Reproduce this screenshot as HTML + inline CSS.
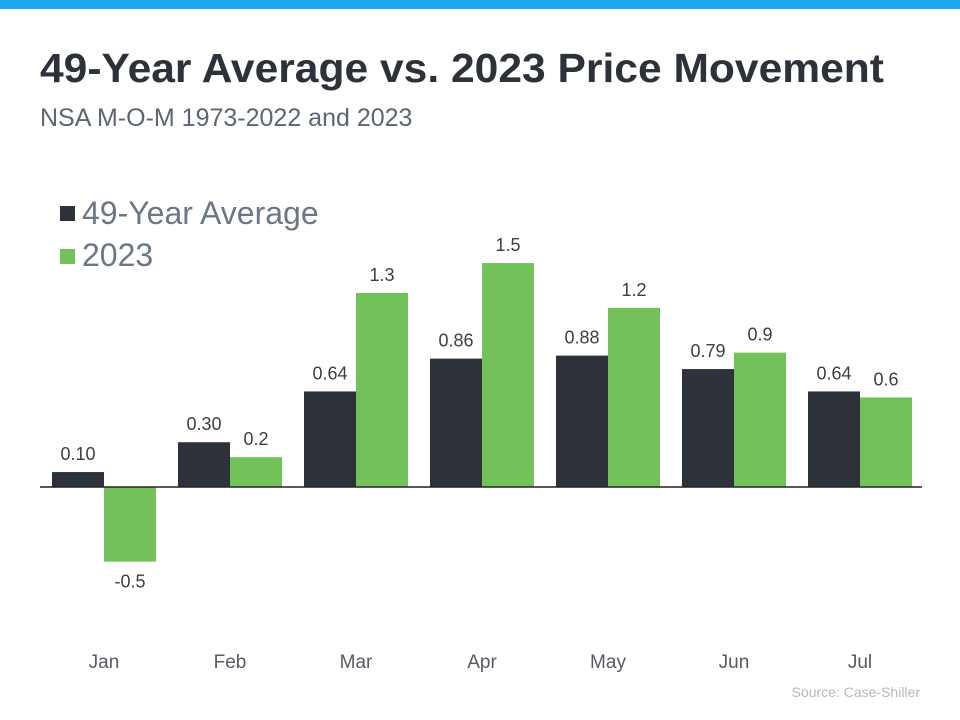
<!DOCTYPE html>
<html><head><meta charset="utf-8"><style>
body{margin:0;background:#fff;}
svg{display:block;font-family:"Liberation Sans",Arial,sans-serif;}
</style></head><body>
<svg id="chart" width="960" height="720" viewBox="0 0 960 720">
<rect x="0" y="0" width="960" height="9" fill="#1aa9ec"/>
<text x="40" y="82" font-size="41" font-weight="bold" fill="#2d3139" textLength="844" lengthAdjust="spacingAndGlyphs">49-Year Average vs. 2023 Price Movement</text>
<text x="40" y="126" font-size="25" fill="#5c6670">NSA M-O-M 1973-2022 and 2023</text>
<g>
<rect x="60" y="206" width="15" height="15" fill="#2d3139"/>
<text x="82" y="224" font-size="32" fill="#6b7785">49-Year Average</text>
<rect x="60" y="249" width="15" height="15" fill="#73c15a"/>
<text x="82" y="266" font-size="32" fill="#6b7785">2023</text>
</g>
<g id="bars"></g>
<line x1="40" y1="487" x2="922" y2="487" stroke="#222" stroke-width="1.5"/>
<text x="920" y="697" font-size="14" fill="#b5b9bd" text-anchor="end">Source: Case-Shiller</text>
</svg>
<script>
const months = ["Jan","Feb","Mar","Apr","May","Jun","Jul"];
const avgValues = [0.10,0.30,0.64,0.86,0.88,0.79,0.64];
const y2023Values = [-0.5,0.2,1.3,1.5,1.2,0.9,0.6];
const avgLabels = ["0.10","0.30","0.64","0.86","0.88","0.79","0.64"];
const y2023Labels = ["-0.5","0.2","1.3","1.5","1.2","0.9","0.6"];
const NS="http://www.w3.org/2000/svg";
const g=document.getElementById('bars');
function yScale(v){return 487 - v*149.3;}
function xCenter(i){return 104 + i*126;}
const bw=52;
function mk(t,a){const e=document.createElementNS(NS,t);for(const k in a)e.setAttribute(k,a[k]);return e;}
function bar(i,v,lab,left,color,name){
  const x=left?xCenter(i)-bw:xCenter(i);
  const y0=yScale(0),y1=yScale(v);
  const r=mk('rect',{x:x,y:Math.min(y0,y1),width:bw,height:Math.abs(y1-y0),fill:color});
  
  
  g.appendChild(r);
  const ty=v>=0?y1-12:y1+26;
  const t=mk('text',{x:x+bw/2,y:ty,'font-size':18,fill:'#3a3f46','text-anchor':'middle'});
  t.textContent=lab;
  
  
  g.appendChild(t);
}
months.forEach((m,i)=>{
  bar(i,avgValues[i],avgLabels[i],true,'#2d3139','average');
  bar(i,y2023Values[i],y2023Labels[i],false,'#73c15a','y2023');
  const t=mk('text',{x:xCenter(i),y:668,'font-size':19,fill:'#555b62','text-anchor':'middle'});
  t.textContent=m;
  
  
  g.appendChild(t);
});
</script>
</body></html>
